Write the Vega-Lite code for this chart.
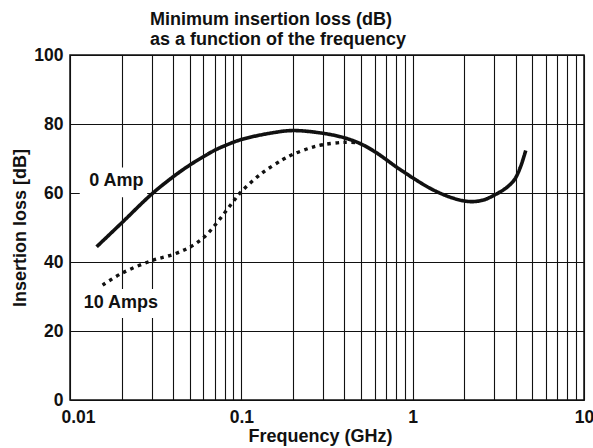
{
  "$schema": "https://vega.github.io/schema/vega-lite/v6.json",
  "autosize": {"type": "none"},
  "width": 514,
  "height": 345,
  "padding": {"left": 70, "top": 55, "right": 9, "bottom": 48},
  "background": "white",
  "title": {
    "text": ["Minimum insertion loss (dB)", "as a function of the frequency"],
    "anchor": "start",
    "frame": "group",
    "dx": 80,
    "dy": 8,
    "offset": 5,
    "font": "Liberation Sans",
    "fontSize": 18,
    "fontWeight": "bold",
    "color": "#111",
    "lineHeight": 20
  },
  "config": {
    "view": {"stroke": "#111", "strokeWidth": 1.5},
    "axis": {
      "labelFont": "Liberation Sans",
      "labelFontSize": 17.5,
      "labelFontWeight": "bold",
      "labelColor": "#111",
      "titleFont": "Liberation Sans",
      "titleFontSize": 18,
      "titleFontWeight": "bold",
      "titleColor": "#111",
      "grid": true,
      "gridColor": "#111",
      "gridWidth": 1.1,
      "gridOpacity": 1,
      "ticks": false,
      "domain": false
    }
  },
  "datasets": {
    "curves": [
      {"f": 0.0143, "loss": 44.4, "series": "0 Amp"},
      {"f": 0.02, "loss": 51.3, "series": "0 Amp"},
      {"f": 0.03, "loss": 59.7, "series": "0 Amp"},
      {"f": 0.04, "loss": 64.7, "series": "0 Amp"},
      {"f": 0.05, "loss": 68.1, "series": "0 Amp"},
      {"f": 0.06, "loss": 70.5, "series": "0 Amp"},
      {"f": 0.07, "loss": 72.4, "series": "0 Amp"},
      {"f": 0.08, "loss": 73.7, "series": "0 Amp"},
      {"f": 0.1, "loss": 75.5, "series": "0 Amp"},
      {"f": 0.15, "loss": 77.4, "series": "0 Amp"},
      {"f": 0.2, "loss": 78.1, "series": "0 Amp"},
      {"f": 0.3, "loss": 77.3, "series": "0 Amp"},
      {"f": 0.4, "loss": 76.0, "series": "0 Amp"},
      {"f": 0.5, "loss": 74.2, "series": "0 Amp"},
      {"f": 0.6, "loss": 72.0, "series": "0 Amp"},
      {"f": 0.7, "loss": 69.7, "series": "0 Amp"},
      {"f": 0.8, "loss": 67.6, "series": "0 Amp"},
      {"f": 0.9, "loss": 65.9, "series": "0 Amp"},
      {"f": 1, "loss": 64.4, "series": "0 Amp"},
      {"f": 1.25, "loss": 61.5, "series": "0 Amp"},
      {"f": 1.5, "loss": 59.6, "series": "0 Amp"},
      {"f": 1.75, "loss": 58.4, "series": "0 Amp"},
      {"f": 2, "loss": 57.7, "series": "0 Amp"},
      {"f": 2.25, "loss": 57.5, "series": "0 Amp"},
      {"f": 2.6, "loss": 58.0, "series": "0 Amp"},
      {"f": 3, "loss": 59.4, "series": "0 Amp"},
      {"f": 3.5, "loss": 61.4, "series": "0 Amp"},
      {"f": 3.8, "loss": 63.0, "series": "0 Amp"},
      {"f": 4, "loss": 64.5, "series": "0 Amp"},
      {"f": 4.27, "loss": 67.7, "series": "0 Amp"},
      {"f": 4.57, "loss": 72.3, "series": "0 Amp"},
      {"f": 0.0155, "loss": 33.3, "series": "10 Amps"},
      {"f": 0.02, "loss": 36.7, "series": "10 Amps"},
      {"f": 0.03, "loss": 40.4, "series": "10 Amps"},
      {"f": 0.04, "loss": 42.2, "series": "10 Amps"},
      {"f": 0.05, "loss": 44.3, "series": "10 Amps"},
      {"f": 0.06, "loss": 47.0, "series": "10 Amps"},
      {"f": 0.07, "loss": 50.6, "series": "10 Amps"},
      {"f": 0.08, "loss": 54.3, "series": "10 Amps"},
      {"f": 0.09, "loss": 57.6, "series": "10 Amps"},
      {"f": 0.1, "loss": 60.4, "series": "10 Amps"},
      {"f": 0.13, "loss": 65.5, "series": "10 Amps"},
      {"f": 0.173, "loss": 69.6, "series": "10 Amps"},
      {"f": 0.2, "loss": 71.2, "series": "10 Amps"},
      {"f": 0.25, "loss": 73.0, "series": "10 Amps"},
      {"f": 0.3, "loss": 74.0, "series": "10 Amps"},
      {"f": 0.4, "loss": 74.7, "series": "10 Amps"},
      {"f": 0.48, "loss": 74.6, "series": "10 Amps"}
    ],
    "labels": [
      {"label": "0 Amp", "f": 0.01865, "loss": 63.5, "f1": 0.0114, "f2": 0.0282, "y1": 58.8, "y2": 67.4},
      {"label": "10 Amps", "f": 0.0198, "loss": 28.1, "f1": 0.0111, "f2": 0.0349, "y1": 23.8, "y2": 32.2}
    ]
  },
  "layer": [
    {
      "data": {"name": "labels"},
      "mark": {"type": "rect", "fill": "white", "stroke": null},
      "encoding": {
        "x": {"field": "f1", "type": "quantitative", "scale": {"type": "log", "domain": [0.01, 10]}},
        "x2": {"field": "f2"},
        "y": {"field": "y1", "type": "quantitative", "scale": {"domain": [0, 100]}},
        "y2": {"field": "y2"}
      }
    },
    {
      "data": {"name": "curves"},
      "mark": {"type": "line", "color": "#111", "interpolate": "catmull-rom", "strokeCap": "butt"},
      "encoding": {
        "x": {
          "field": "f", "type": "quantitative",
          "scale": {"type": "log", "domain": [0.01, 10]},
          "axis": {
            "title": "Frequency (GHz)",
            "titlePadding": 2,
            "titleX": 250,
            "labelPadding": 8,
            "labelFlush": false,
            "labelOverlap": false,
            "format": "~g",
            "values": [0.01, 0.02, 0.03, 0.04, 0.05, 0.06, 0.07, 0.08, 0.09, 0.1, 0.2, 0.3, 0.4, 0.5, 0.6, 0.7, 0.8, 0.9, 1, 2, 3, 4, 5, 6, 7, 8, 9, 10],
            "labelExpr": "(datum.label == '0.01' || datum.label == '0.1' || datum.label == '1' || datum.label == '10') ? datum.label : ''",
            "labelOffset": {"condition": {"test": "datum.value == 0.01", "value": 8}, "value": 0}
          }
        },
        "y": {
          "field": "loss", "type": "quantitative",
          "scale": {"domain": [0, 100]},
          "axis": {
            "title": "Insertion loss [dB]",
            "values": [0, 20, 40, 60, 80, 100],
            "labelPadding": 7,
            "titlePadding": 4
          }
        },
        "detail": {"field": "series"},
        "strokeDash": {
          "field": "series", "type": "nominal",
          "scale": {"domain": ["0 Amp", "10 Amps"], "range": [[1, 0], [3.5, 4.5]]},
          "legend": null
        },
        "strokeWidth": {
          "field": "series", "type": "nominal",
          "scale": {"domain": ["0 Amp", "10 Amps"], "range": [3.6, 3.4]},
          "legend": null
        }
      }
    },
    {
      "data": {"name": "labels"},
      "mark": {"type": "text", "font": "Liberation Sans", "fontSize": 18, "fontWeight": "bold", "color": "#111", "align": "center", "baseline": "middle"},
      "encoding": {
        "x": {"field": "f", "type": "quantitative", "scale": {"type": "log", "domain": [0.01, 10]}},
        "y": {"field": "loss", "type": "quantitative", "scale": {"domain": [0, 100]}},
        "text": {"field": "label"}
      }
    }
  ]
}
